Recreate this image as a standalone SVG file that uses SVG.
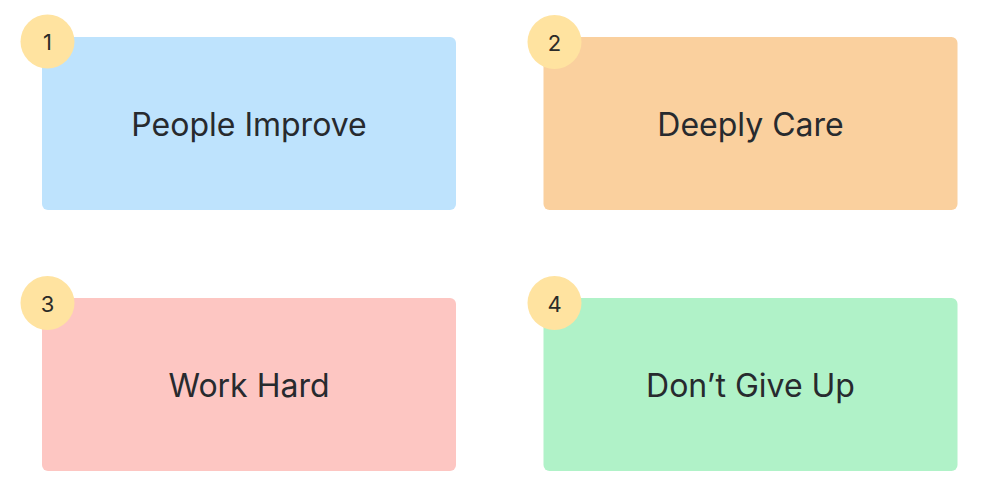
<svg xmlns="http://www.w3.org/2000/svg" width="984" height="501" viewBox="0 0 984 501">
<style>
.card{stroke:none}
.label{font-family:Inter,"Liberation Sans",sans-serif;font-size:32px;fill:#272a2e;text-anchor:middle;dominant-baseline:central}
.badge{fill:#ffe3a0}
.num{font-family:Inter,"Liberation Sans",sans-serif;font-size:22px;fill:#2b2b28;text-anchor:middle;dominant-baseline:central}
</style>
<rect width="984" height="501" fill="#ffffff"/>
<g id="node1">
<rect class="card" x="42" y="37" width="414" height="173" rx="6" fill="#bee3fd"/>
<text class="label" x="249" y="124">People Improve</text>
<circle class="badge" cx="47.5" cy="41.5" r="27"/>
<text class="num" x="47.5" y="42">1</text>
</g>
<g id="node2">
<rect class="card" x="543.5" y="37" width="414" height="173" rx="6" fill="#fad09e"/>
<text class="label" x="750.5" y="124">Deeply Care</text>
<circle class="badge" cx="554.5" cy="42" r="27"/>
<text class="num" x="554.5" y="42.5">2</text>
</g>
<g id="node3">
<rect class="card" x="42" y="298" width="414" height="173" rx="6" fill="#fdc6c2"/>
<text class="label" x="249" y="385">Work Hard</text>
<circle class="badge" cx="47.5" cy="303" r="27"/>
<text class="num" x="47.5" y="303.5">3</text>
</g>
<g id="node4">
<rect class="card" x="543.5" y="298" width="414" height="173" rx="6" fill="#b0f2c8"/>
<text class="label" x="750.5" y="385">Don’t Give Up</text>
<circle class="badge" cx="554.5" cy="303" r="27"/>
<text class="num" x="554.5" y="303.5">4</text>
</g>
<g id="connectors"/>
</svg>
